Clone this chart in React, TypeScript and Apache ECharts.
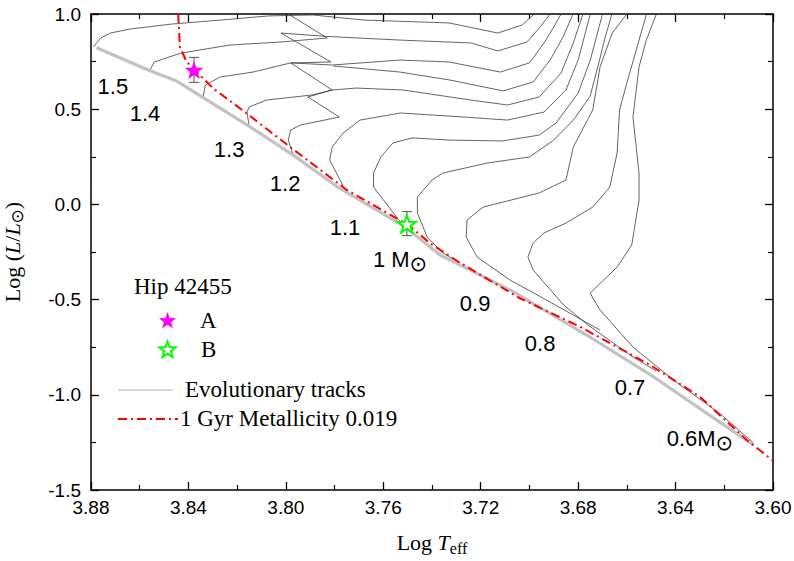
import { useEffect, useRef } from "react";
import * as echarts from "echarts";

// ---- data (Log Teff, Log L/Lsun) ----
const zams: [number, number][] = [
  [3.8777, 0.823], [3.8558, 0.702], [3.8448, 0.648], [3.8346, 0.566], [3.8148, 0.408],
  [3.797, 0.259], [3.778, 0.085], [3.7511, -0.117], [3.7367, -0.266], [3.708, -0.449],
  [3.6765, -0.686], [3.6491, -0.905], [3.6222, -1.141], [3.6081, -1.263],
];
const isochrone1Gyr: [number, number][] = [
  [3.8442, 1.0], [3.8435, 0.828], [3.8408, 0.75], [3.8374, 0.706], [3.8299, 0.61],
  [3.8162, 0.479], [3.7984, 0.303], [3.775, 0.076], [3.7497, -0.108], [3.7408, -0.204],
  [3.7293, -0.3], [3.7039, -0.493], [3.6793, -0.642], [3.6505, -0.843], [3.63, -1.01],
  [3.6108, -1.237], [3.6, -1.345],
];
const track150: [number, number][] = [[3.879,0.827],[3.876,0.874],[3.872,0.9],[3.864,0.921],[3.847,0.947],[3.827,0.968],[3.807,0.99],[3.789,0.995],[3.768,0.968],[3.733,0.953],[3.713,0.9],[3.703,0.942],[3.698,1.0],[3.696,1.05]];
const track140: [number, number][] = [[3.856,0.701],[3.854,0.748],[3.843,0.795],[3.823,0.837],[3.802,0.853],[3.783,0.874],[3.799,1.0],[3.8,1.03]];
const track130: [number, number][] = [[3.834,0.564],[3.833,0.627],[3.827,0.669],[3.8135,0.695],[3.798,0.743],[3.7815,0.748],[3.802,0.9],[3.783,0.882],[3.753,0.863],[3.724,0.848],[3.713,0.806],[3.701,0.853],[3.696,0.926],[3.6915,1.0],[3.69,1.05]];
const track120: [number, number][] = [[3.815,0.407],[3.816,0.485],[3.815,0.512],[3.808,0.548],[3.789,0.575],[3.781,0.601],[3.798,0.743],[3.781,0.732],[3.753,0.758],[3.733,0.748],[3.712,0.695],[3.7,0.743],[3.694,0.848],[3.69,0.932],[3.687,1.0],[3.686,1.05]];
const track120gap: [number, number][] = [[3.7806,0.727],[3.7531,0.695],[3.7326,0.653],[3.7108,0.596],[3.6985,0.643],[3.6915,0.758],[3.6862,0.879],[3.6821,1.0],[3.681,1.05]];
const track110: [number, number][] = [[3.797,0.26],[3.799,0.338],[3.798,0.391],[3.794,0.417],[3.778,0.459],[3.791,0.564],[3.781,0.601],[3.771,0.611],[3.752,0.601],[3.724,0.548],[3.709,0.522],[3.696,0.564],[3.687,0.69],[3.682,0.848],[3.678,1.0],[3.677,1.05]];
const track100: [number, number][] = [[3.7765,0.097],[3.782,0.233],[3.781,0.301],[3.7765,0.375],[3.7695,0.443],[3.753,0.48],[3.733,0.464],[3.709,0.443],[3.694,0.485],[3.685,0.601],[3.68,0.758],[3.675,1.0],[3.674,1.05]];
const track090: [number, number][] = [[3.753,-0.092],[3.764,0.091],[3.764,0.165],[3.761,0.249],[3.756,0.323],[3.748,0.349],[3.733,0.338],[3.711,0.333],[3.696,0.364],[3.689,0.428],[3.68,0.585],[3.675,0.758],[3.67,1.0],[3.669,1.05]];
const track080: [number, number][] = [[3.7285,-0.308],[3.7355,-0.255],[3.742,-0.171],[3.746,-0.045],[3.746,0.039],[3.74,0.128],[3.7355,0.165],[3.717,0.218],[3.7,0.249],[3.69,0.338],[3.682,0.443],[3.6751,0.567],[3.671,0.769],[3.6689,0.879],[3.666,1.005]];
const track070: [number, number][] = [[3.671,-0.66],[3.696,-0.481],[3.708,-0.397],[3.7215,-0.276],[3.726,-0.171],[3.7256,-0.082],[3.719,-0.014],[3.696,0.06],[3.685,0.128],[3.682,0.301],[3.674,0.496],[3.671,0.722],[3.666,0.9],[3.66,1.0],[3.659,1.05]];
const track065: [number, number][] = [[3.648,-0.875],[3.6575,-0.801],[3.676,-0.633],[3.686,-0.528],[3.6985,-0.344],[3.7006,-0.276],[3.6985,-0.203],[3.694,-0.15],[3.685,-0.098],[3.674,-0.014],[3.667,0.091],[3.664,0.27],[3.663,0.496],[3.66,0.638],[3.655,0.863],[3.652,0.995],[3.651,1.05]];
const track060: [number, number][] = [[3.608,-1.253],[3.622,-1.096],[3.641,-0.922],[3.6575,-0.749],[3.671,-0.555],[3.674,-0.492],[3.675,-0.465],[3.664,-0.329],[3.658,-0.213],[3.655,0.023],[3.655,0.165],[3.6575,0.459],[3.655,0.722],[3.652,0.863],[3.648,0.995],[3.647,1.05]];
const tracks = [track150, track140, track130, track120, track120gap, track110, track100, track090, track080, track070, track065, track060];

const starA: [number, number] = [3.8377, 0.706];
const starAErr: [number, number] = [0.641, 0.772];
const starB: [number, number] = [3.7503, -0.103];
const starBErr: [number, number] = [-0.164, -0.038];

const massLabelText = ["1.5", "1.4", "1.3", "1.2", "1.1", "1 M{s|⊙}", "0.9", "0.8", "0.7", "0.6M{s|⊙}"];
const massLabelT = [3.871, 3.8578, 3.8233, 3.8003, 3.7757, 3.7531, 3.7223, 3.6956, 3.6587, 3.63];
const massLabelL = [0.617, 0.48, 0.286, 0.112, -0.119, -0.292, -0.518, -0.728, -0.964, -1.227];

const SANS = "Liberation Sans, Arial, sans-serif";
const SERIF = "Liberation Serif, Times New Roman, serif";

function starPts(cx: number, cy: number, R: number, r: number) {
  const pts: number[][] = [];
  for (let k = 0; k < 10; k++) {
    const a = -Math.PI / 2 + (k * Math.PI) / 5;
    const rad = k % 2 === 0 ? R : r;
    pts.push([cx + rad * Math.cos(a), cy + rad * Math.sin(a)]);
  }
  return pts;
}
const starPath =
  "path://" +
  starPts(0, 0, 10, 4)
    .map((p, i) => (i === 0 ? "M" : "L") + p[0].toFixed(2) + "," + p[1].toFixed(2))
    .join(" ") +
  " Z";

export default function App() {
  const ref = useRef<HTMLDivElement>(null);
  useEffect(() => {
    if (!ref.current) return;
    const chart = echarts.init(ref.current, undefined, { renderer: "svg" });
    const xBase = {
      type: "value" as const,
      min: 3.6,
      max: 3.88,
      interval: 0.04,
      inverse: true,
      splitLine: { show: false },
      axisLine: { onZero: false, lineStyle: { color: "#000", width: 1.5 } },
      axisTick: { inside: true, length: 8, lineStyle: { color: "#000", width: 1.3 } },
      minorTick: { show: true, splitNumber: 2, length: 5, lineStyle: { color: "#000", width: 1.2 } },
    };
    const yBase = {
      type: "value" as const,
      min: -1.5,
      max: 1.0,
      interval: 0.5,
      splitLine: { show: false },
      axisLine: { onZero: false, lineStyle: { color: "#000", width: 1.5 } },
      axisTick: { inside: true, length: 8, lineStyle: { color: "#000", width: 1.3 } },
      minorTick: { show: true, splitNumber: 2, length: 5, lineStyle: { color: "#000", width: 1.2 } },
    };
    const trackSeries = tracks.map((t) => ({
      type: "line",
      data: t,
      showSymbol: false,
      silent: true,
      z: 2,
      lineStyle: { color: "#3c3c3c", width: 0.8 },
    }));
    const legendX = 118;
    chart.setOption({
      animation: false,
      grid: { left: 91, right: 21, top: 14, bottom: 71, containLabel: false, outerBoundsMode: "none" },
      xAxis: [
        {
          ...xBase,
          position: "bottom",
          axisLabel: {
            color: "#000",
            fontFamily: SANS,
            fontSize: 19,
            margin: 8,
            formatter: (v: number) => v.toFixed(2),
          },
          name: "{n|Log }{i|T}{b|eff}",
          nameLocation: "middle",
          nameGap: 38,
          nameTextStyle: {
            rich: {
              n: { fontFamily: SERIF, fontSize: 22, color: "#000" },
              i: { fontFamily: SERIF, fontSize: 22, fontStyle: "italic", color: "#000" },
              b: { fontFamily: SERIF, fontSize: 16, color: "#000", padding: [12, 0, 0, 0] },
            },
          },
        },
        { ...xBase, position: "top", axisLabel: { show: false } },
      ],
      yAxis: [
        {
          ...yBase,
          position: "left",
          axisLabel: {
            color: "#000",
            fontFamily: SANS,
            fontSize: 19,
            margin: 10,
            formatter: (v: number) => v.toFixed(1),
          },
          name: "{n|Log (}{i|L}{n|/}{i|L}{s|⊙}{n|)}",
          nameLocation: "middle",
          nameGap: 66,
          nameRotate: 90,
          nameTextStyle: {
            rich: {
              n: { fontFamily: SERIF, fontSize: 22, color: "#000" },
              i: { fontFamily: SERIF, fontSize: 22, fontStyle: "italic", color: "#000" },
              s: { fontFamily: "DejaVu Sans", fontSize: 17, color: "#000", padding: [8, 0, 0, 0] },
            },
          },
        },
        { ...yBase, position: "right", axisLabel: { show: false } },
      ],
      series: [
        ...trackSeries,
        {
          type: "line",
          data: zams,
          showSymbol: false,
          silent: true,
          z: 3,
          lineStyle: { color: "#c2c2c2", width: 3.2 },
        },
        {
          type: "line",
          data: isochrone1Gyr,
          showSymbol: false,
          silent: true,
          z: 4,
          lineStyle: { color: "#ff0000", width: 2, type: [9, 4, 2, 4] },
        },
        {
          type: "custom",
          z: 5,
          data: [
            [starA[0], starAErr[0], starAErr[1]],
            [starB[0], starBErr[0], starBErr[1]],
          ],
          encode: { x: 0, y: [1, 2] },
          renderItem: (_p: any, api: any) => {
            const a = api.coord([api.value(0), api.value(1)]);
            const b = api.coord([api.value(0), api.value(2)]);
            const st = { stroke: "#555", lineWidth: 1 };
            return {
              type: "group",
              children: [
                { type: "line", shape: { x1: a[0], y1: a[1], x2: b[0], y2: b[1] }, style: st },
                { type: "line", shape: { x1: a[0] - 5, y1: a[1], x2: a[0] + 5, y2: a[1] }, style: st },
                { type: "line", shape: { x1: b[0] - 5, y1: b[1], x2: b[0] + 5, y2: b[1] }, style: st },
              ],
            };
          },
        },
        {
          type: "scatter",
          z: 6,
          symbol: starPath,
          symbolKeepAspect: true,
          symbolSize: 19,
          data: [starA],
          itemStyle: { color: "#ff00ff", opacity: 1 },
        },
        {
          type: "scatter",
          z: 6,
          symbol: starPath,
          symbolKeepAspect: true,
          symbolSize: 18,
          data: [starB],
          itemStyle: { color: "#ffffff", borderColor: "#00ff00", borderWidth: 2, opacity: 1 },
        },
        {
          type: "scatter",
          z: 7,
          symbolSize: 1,
          itemStyle: { color: "rgba(0,0,0,0)", opacity: 1 },
          silent: true,
          data: massLabelT.map((t, i) => ({ value: [t, massLabelL[i]], name: massLabelText[i] })),
          label: {
            show: true,
            position: "inside",
            formatter: (p: any) => p.name,
            color: "#000",
            opacity: 1,
            fontFamily: SANS,
            fontSize: 22,
            rich: {
              s: { fontFamily: "DejaVu Sans", fontSize: 21, color: "#000", padding: [9, 0, 0, 0] },
            },
          },
        },
      ],
      graphic: [
        { type: "text", left: 134, top: 275, style: { text: "Hip 42455", font: `23px ${SERIF}`, fill: "#000" } },
        { type: "polygon", shape: { points: starPts(167.5, 321, 9, 3.8) }, style: { fill: "#ff00ff" } },
        { type: "text", left: 200, top: 309, style: { text: "A", font: `23px ${SERIF}`, fill: "#000" } },
        {
          type: "polygon",
          shape: { points: starPts(167.5, 350, 8.5, 3.6) },
          style: { fill: "#fff", stroke: "#00ff00", lineWidth: 2 },
        },
        { type: "text", left: 201, top: 338, style: { text: "B", font: `23px ${SERIF}`, fill: "#000" } },
        { type: "line", shape: { x1: legendX, y1: 390, x2: 173, y2: 390 }, style: { stroke: "#b0b0b0", lineWidth: 1 } },
        { type: "text", left: 185, top: 378, style: { text: "Evolutionary tracks", font: `23px ${SERIF}`, fill: "#000" } },
        {
          type: "line",
          shape: { x1: legendX, y1: 419, x2: 178, y2: 419 },
          style: { stroke: "#ff0000", lineWidth: 2, lineDash: [9, 4, 2, 4] },
        },
        { type: "text", left: 180, top: 407, style: { text: "1 Gyr Metallicity 0.019", font: `23px ${SERIF}`, fill: "#000" } },
      ],
    });
    return () => chart.dispose();
  }, []);
  return (
    <div
      ref={ref}
      style={{ position: "fixed", left: 0, top: 0, width: 794, height: 561, background: "#fff" }}
    />
  );
}
